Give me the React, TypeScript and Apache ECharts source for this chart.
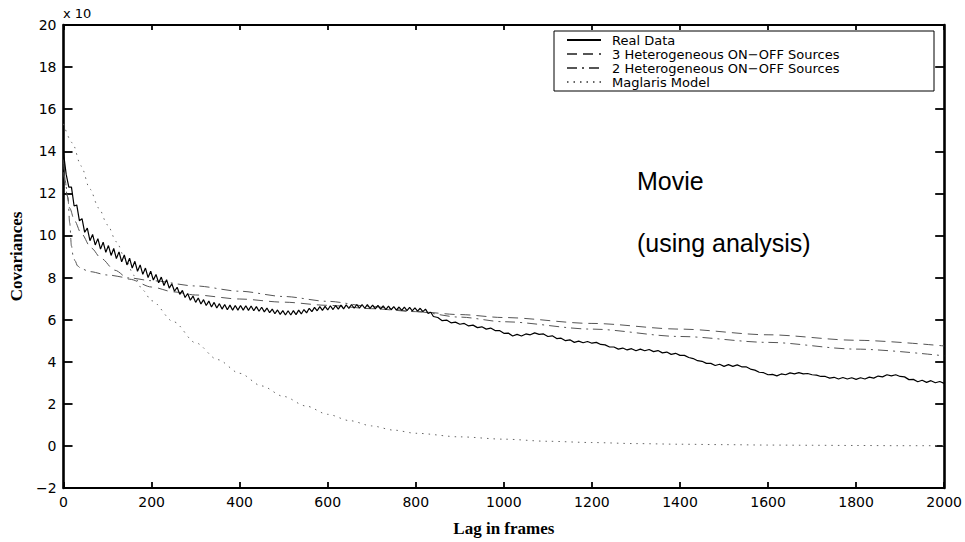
import React, { useEffect, useRef } from "react";
import * as echarts from "echarts";

// ---------- data ----------
const SERIES_NAMES = [
  "Real Data",
  "3 Heterogeneous ON\u2212OFF Sources",
  "2 Heterogeneous ON\u2212OFF Sources",
  "Maglaris Model",
];

// Real data, lags 0..834 sampled every 6 frames
const REAL_A_START = 0;
const REAL_A_STEP = 6;
const REAL_A = [
  13.9, 12.9, 12.3, 12.3, 11.4, 11.45, 10.7, 10.8, 10.15, 10.35,
  9.75, 10.05, 9.55, 9.85, 9.35, 9.68, 9.2, 9.52, 9.05, 9.38,
  8.9, 9.22, 8.75, 9.07, 8.6, 8.92, 8.45, 8.77, 8.3, 8.6,
  8.15, 8.45, 8.0, 8.3, 7.88, 8.15, 7.75, 8.02, 7.62, 7.9,
  7.5, 7.7, 7.35, 7.54, 7.2, 7.39, 7.05, 7.24, 6.92, 7.12,
  6.82, 7.03, 6.74, 6.95, 6.67, 6.88, 6.6, 6.82, 6.55, 6.76,
  6.5, 6.72, 6.47, 6.69, 6.45, 6.67, 6.45, 6.67, 6.45, 6.66,
  6.44, 6.65, 6.42, 6.62, 6.4, 6.59, 6.37, 6.55, 6.33, 6.5,
  6.28, 6.46, 6.25, 6.43, 6.22, 6.42, 6.22, 6.43, 6.24, 6.45,
  6.27, 6.48, 6.32, 6.54, 6.38, 6.58, 6.42, 6.62, 6.44, 6.63,
  6.46, 6.66, 6.48, 6.67, 6.5, 6.69, 6.51, 6.7, 6.53, 6.72,
  6.54, 6.72, 6.55, 6.72, 6.54, 6.71, 6.53, 6.69, 6.51, 6.68,
  6.5, 6.66, 6.48, 6.64, 6.47, 6.62, 6.45, 6.6, 6.44, 6.59,
  6.43, 6.58, 6.42, 6.56, 6.4, 6.54, 6.38, 6.5, 6.3, 6.35,
];

// Real data, lags 840..2000 sampled every 10 frames
const REAL_B_START = 840;
const REAL_B_STEP = 10;
const REAL_B = [
  6.15, 6.1, 5.95, 5.98, 5.85, 5.88, 5.78, 5.82, 5.7, 5.74,
  5.62, 5.66, 5.55, 5.6, 5.48, 5.48, 5.35, 5.36, 5.22, 5.3,
  5.22, 5.32, 5.28, 5.37, 5.3, 5.32, 5.2, 5.23, 5.1, 5.12,
  5.0, 5.04, 4.92, 4.98, 4.9, 4.96, 4.88, 4.92, 4.82, 4.8,
  4.7, 4.7, 4.6, 4.65, 4.56, 4.62, 4.52, 4.6, 4.52, 4.58,
  4.48, 4.53, 4.42, 4.46, 4.35, 4.4, 4.3, 4.3, 4.2, 4.15,
  4.05, 4.02, 3.92, 3.92, 3.82, 3.88, 3.78, 3.86, 3.78, 3.85,
  3.76, 3.76, 3.65, 3.6, 3.5, 3.48, 3.38, 3.4, 3.33, 3.42,
  3.38, 3.47, 3.42, 3.48, 3.42, 3.44, 3.38, 3.36, 3.3, 3.3,
  3.22, 3.26, 3.18, 3.25, 3.18, 3.24, 3.16, 3.24, 3.18, 3.27,
  3.22, 3.32, 3.28, 3.38, 3.33, 3.38, 3.3, 3.28, 3.15, 3.16,
  3.05, 3.12, 3.02, 3.1, 3.0, 3.06, 2.97,
];

const THREE_SRC_LAGS = [0, 4, 8, 14, 25, 40, 63, 86, 116, 150, 200, 250, 300, 400, 500, 600, 700, 800, 900, 1000, 1200, 1400, 1600, 1800, 2000];
const THREE_SRC = [13.6, 12.6, 11.9, 11.3, 10.7, 10.1, 9.4, 8.9, 8.35, 7.92, 7.55, 7.32, 7.17, 6.98, 6.83, 6.68, 6.52, 6.38, 6.24, 6.1, 5.82, 5.55, 5.28, 5.02, 4.75];

const TWO_SRC_LAGS = [0, 5, 10, 14, 18, 22, 26, 32, 40, 60, 100, 150, 200, 300, 400, 500, 600, 700, 800, 900, 1000, 1200, 1400, 1600, 1800, 2000];
const TWO_SRC = [13.0, 12.4, 11.8, 10.6, 9.5, 9.0, 8.8, 8.55, 8.42, 8.28, 8.12, 7.98, 7.85, 7.6, 7.35, 7.1, 6.87, 6.62, 6.38, 6.12, 5.9, 5.55, 5.2, 4.92, 4.6, 4.28];

const MAGLARIS_LAGS = [0, 20, 40, 60, 80, 100, 120, 140, 160, 180, 200, 250, 300, 350, 400, 450, 500, 550, 600, 650, 700, 750, 800, 900, 1000, 1100, 1200, 1300, 1400, 1500, 1600, 1700, 1800, 1900, 2000];
const MAGLARIS = [15.3, 14.4, 13.3, 12.2, 11.3, 10.5, 9.7, 8.9, 8.1, 7.4, 6.9, 5.9, 4.9, 4.1, 3.45, 2.85, 2.35, 1.9, 1.5, 1.2, 0.95, 0.75, 0.6, 0.43, 0.32, 0.22, 0.16, 0.11, 0.08, 0.06, 0.04, 0.03, 0.02, 0.01, 0.01];

const X_MIN = 0, X_MAX = 2000, X_STEP = 200;
const Y_MIN = -2, Y_MAX = 20, Y_STEP = 2;

const ANNOTATION = ["Movie", "(using analysis)"];
const EXPONENT_LABEL = "x 10";
const X_NAME = "Lag in frames";
const Y_NAME = "Covariances";

// ---------- chart ----------
const pair = (lags: number[], vals: number[]) => vals.map((v, i) => [lags[i], v]);

export default function App() {
  const ref = useRef<HTMLDivElement>(null);
  useEffect(() => {
    if (!ref.current) return;
    const chart = echarts.init(ref.current, undefined, { renderer: "svg" });

    const realData = [
      ...REAL_A.map((v, i) => [REAL_A_START + i * REAL_A_STEP, v]),
      ...REAL_B.map((v, i) => [REAL_B_START + i * REAL_B_STEP, v]),
    ];

    const tickFont = { fontFamily: "DejaVu Sans", fontSize: 14, color: "#000" };
    const minusFmt = (v: number) => String(v).replace("-", "\u2212");

    const option: any = {
      animation: false,
      backgroundColor: "#fff",
      grid: { left: 62, right: 20, top: 25, bottom: 53, containLabel: false },
      xAxis: [
        {
          type: "value", min: X_MIN, max: X_MAX, interval: X_STEP, position: "bottom",
          name: X_NAME, nameLocation: "middle", nameGap: 32,
          nameTextStyle: { fontFamily: "Liberation Serif", fontWeight: "bold", fontSize: 17, color: "#000" },
          axisLine: { onZero: false, lineStyle: { color: "#000", width: 1.8 } },
          axisTick: { inside: true, length: 6, lineStyle: { color: "#000", width: 1.8 } },
          axisLabel: { ...tickFont, margin: 7, formatter: minusFmt },
          splitLine: { show: false },
        },
        {
          type: "value", min: X_MIN, max: X_MAX, interval: X_STEP, position: "top",
          axisLine: { onZero: false, lineStyle: { color: "#000", width: 1.8 } },
          axisTick: { inside: true, length: 5, lineStyle: { color: "#000", width: 1.8 } },
          axisLabel: { show: false },
          splitLine: { show: false },
        },
      ],
      yAxis: [
        {
          type: "value", min: Y_MIN, max: Y_MAX, interval: Y_STEP, position: "left",
          name: Y_NAME, nameLocation: "middle", nameGap: 38,
          nameTextStyle: { fontFamily: "Liberation Serif", fontWeight: "bold", fontSize: 17, color: "#000" },
          axisLine: { onZero: false, lineStyle: { color: "#000", width: 2.6 } },
          axisTick: { inside: true, length: 9, lineStyle: { color: "#000", width: 1.8 } },
          axisLabel: { ...tickFont, margin: 7, formatter: minusFmt },
          splitLine: { show: false },
        },
        {
          type: "value", min: Y_MIN, max: Y_MAX, interval: Y_STEP, position: "right",
          axisLine: { onZero: false, lineStyle: { color: "#000", width: 2.6 } },
          axisTick: { inside: true, length: 9, lineStyle: { color: "#000", width: 1.8 } },
          axisLabel: { show: false },
          splitLine: { show: false },
        },
      ],
      legend: {
        orient: "vertical",
        left: 554,
        top: 31,
        data: SERIES_NAMES,
        itemWidth: 34,
        itemHeight: 14,
        itemGap: 0,
        padding: [2, 10, 2, 12],
        borderColor: "#000",
        borderWidth: 1,
        backgroundColor: "#fff",
        selectedMode: false,
        itemStyle: { opacity: 0 },
        textStyle: { fontFamily: "DejaVu Sans", fontSize: 13, color: "#000", width: 312, lineHeight: 14, padding: [0, 0, 0, 6] },
      },
      series: [
        {
          name: SERIES_NAMES[0], type: "line", data: realData, showSymbol: false, symbol: "none",
          lineStyle: { color: "#000", width: 1.2 }, itemStyle: { color: "#000" }, z: 5,
        },
        {
          name: SERIES_NAMES[1], type: "line", data: pair(THREE_SRC_LAGS, THREE_SRC), showSymbol: false, symbol: "none",
          smooth: 0.3, smoothMonotone: "x",
          lineStyle: { color: "#555", width: 1, type: [10, 6] }, itemStyle: { color: "#555" },
        },
        {
          name: SERIES_NAMES[2], type: "line", data: pair(TWO_SRC_LAGS, TWO_SRC), showSymbol: false, symbol: "none",
          smooth: 0.3, smoothMonotone: "x",
          lineStyle: { color: "#555", width: 1, type: [10, 5, 2, 5] }, itemStyle: { color: "#555" },
        },
        {
          name: SERIES_NAMES[3], type: "line", data: pair(MAGLARIS_LAGS, MAGLARIS), showSymbol: false, symbol: "none",
          smooth: 0.3, smoothMonotone: "x",
          lineStyle: { color: "#666", width: 1, type: [1.5, 5] }, itemStyle: { color: "#666" },
        },
      ],
      graphic: [
        {
          type: "text", left: 63, top: 7,
          style: { text: EXPONENT_LABEL, fontFamily: "DejaVu Sans", fontSize: 13, fill: "#000" },
        },
        {
          type: "text", left: 637, top: 168,
          style: { text: ANNOTATION[0], fontFamily: "Liberation Sans", fontSize: 25, fill: "#000" },
        },
        {
          type: "text", left: 637, top: 230,
          style: { text: ANNOTATION[1], fontFamily: "Liberation Sans", fontSize: 25, fill: "#000" },
        },
      ],
    };
    chart.setOption(option);
    return () => chart.dispose();
  }, []);
  return <div ref={ref} style={{ position: "fixed", left: 0, top: 0, width: 965, height: 542, background: "#fff" }} />;
}
